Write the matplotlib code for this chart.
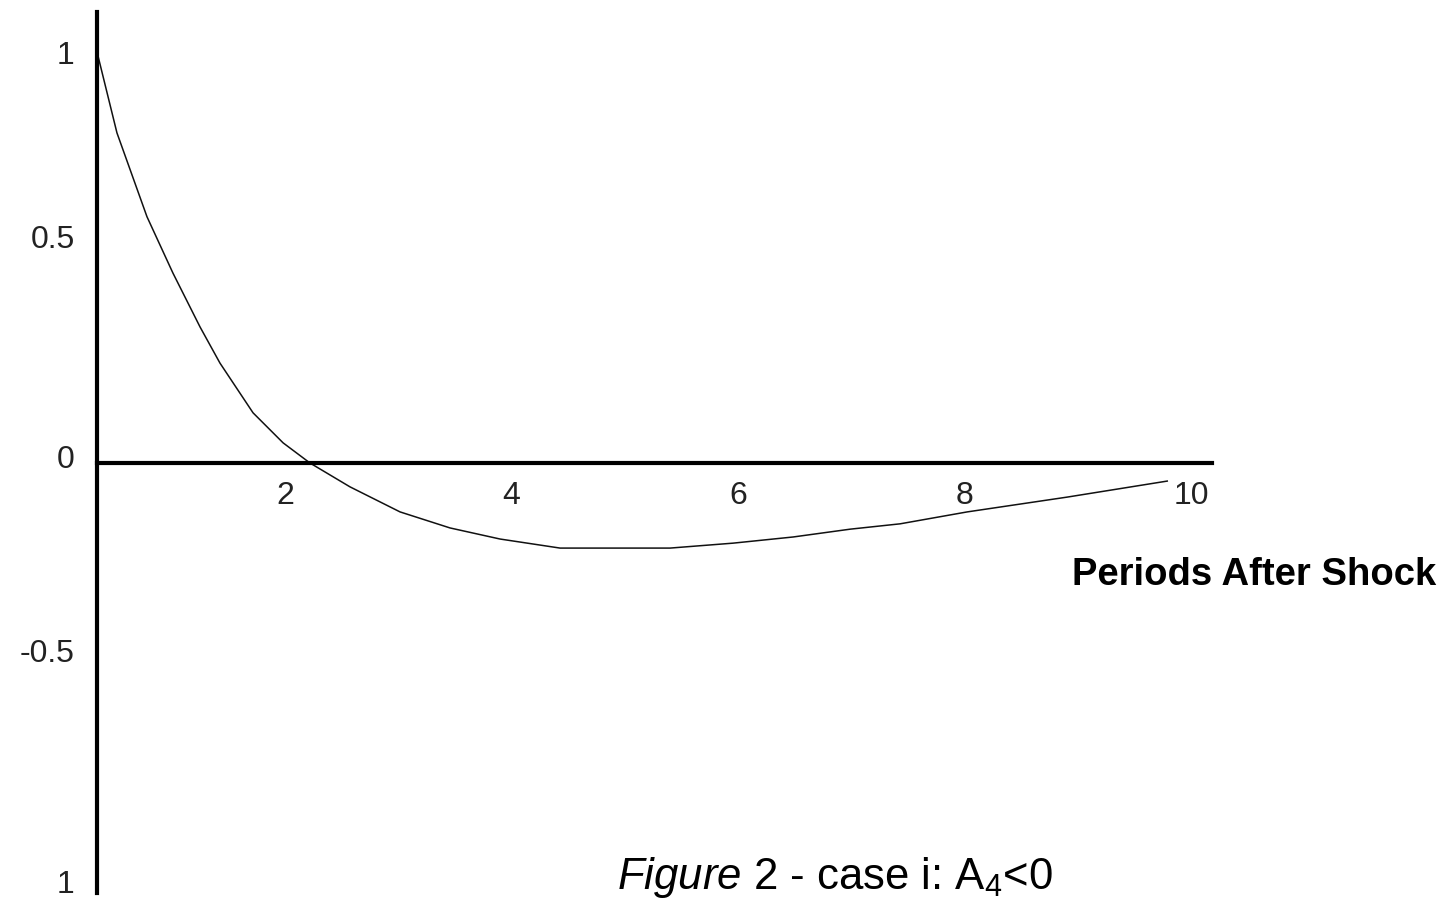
import matplotlib
matplotlib.use("Agg")
import matplotlib.pyplot as plt

plt.rcParams["font.family"] = ["Liberation Sans", "DejaVu Sans"]
plt.rcParams["mathtext.fontset"] = "custom"
plt.rcParams["mathtext.rm"] = "Liberation Sans"
plt.rcParams["mathtext.it"] = "Liberation Sans:italic"

# impulse response
periods = [0.341, 0.517, 0.782, 1.011, 1.250, 1.426, 1.718, 1.983, 2.220, 2.573,
           3.015, 3.456, 3.898, 4.427, 5.398, 5.954, 6.484, 6.987, 7.428, 8.020,
           8.902, 9.785]
response = [1.000, 0.803, 0.599, 0.462, 0.331, 0.243, 0.122, 0.049, 0.000, -0.058,
            -0.119, -0.158, -0.185, -0.207, -0.207, -0.195, -0.180, -0.161, -0.148, -0.119,
            -0.083, -0.044]

x_ticks = [2, 4, 6, 8, 10]
x_labels = ["2", "4", "6", "8", "10"]
y_labels = ["1", "0.5", "0", "-0.5", "1"]
y_label_pos = [0.998, 0.550, 0.015, -0.455, -1.019]  # where the labels sit in the original

fig = plt.figure(figsize=(14.48, 9), dpi=100)
ax = fig.add_axes([97 / 1448, 7 / 900, 1115 / 1448, 881 / 900])

ax.plot(periods, response, color="#111111", lw=1.1)

ax.set_xlim(0.341, 10.18)
ax.set_ylim(-1.046, 1.097)

for s in ("top", "right"):
    ax.spines[s].set_visible(False)
ax.spines["bottom"].set_position(("data", 0))
ax.spines["left"].set_linewidth(3)
ax.spines["bottom"].set_linewidth(3)

ax.set_xticks(x_ticks)
ax.set_xticklabels(x_labels)
ax.set_yticks(y_label_pos)
ax.set_yticklabels(y_labels)
ax.tick_params(axis="x", length=0, pad=13, labelsize=23, labelcolor="#222222")
ax.tick_params(axis="y", length=0, pad=16, labelsize=23, labelcolor="#222222")

fig.text(1072 / 1448, (900 - 585) / 900, "Periods After Shock", fontsize=27.5,
         fontweight="bold", ha="left", va="baseline")
fig.text(617 / 1448, (900 - 889) / 900, r"$\mathit{Figure\ 2}$ - case i: A$_4$<0",
         fontsize=31.5, ha="left", va="baseline")

fig.savefig("out.png", dpi=100)
